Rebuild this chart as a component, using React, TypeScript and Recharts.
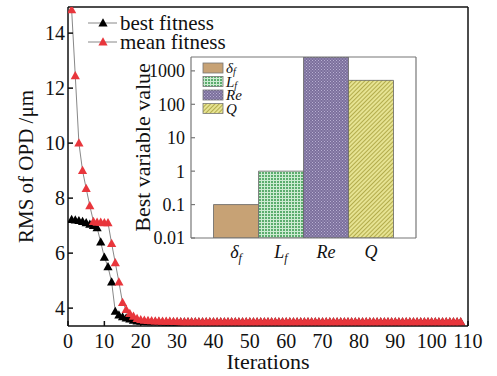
import { LineChart, Line, XAxis, YAxis, BarChart, Bar, Cell, Label, ReferenceLine } from "recharts";

const FONT = "serif";

// iteration 1..108
const bestFitness = [
  7.22, 7.2, 7.18, 7.15, 7.1, 7.05, 7.0, 6.92, 6.4, 5.85,
  5.5, 4.95, 3.88, 3.75, 3.68, 3.64, 3.6, 3.56, 3.53, 3.52,
  3.51, 3.5, 3.5, 3.5, 3.5, 3.49, 3.49, 3.49, 3.49, 3.49,
  3.49, 3.49, 3.49, 3.49, 3.49, 3.49, 3.49, 3.49, 3.49, 3.49,
  3.49, 3.49, 3.49, 3.49, 3.49, 3.49, 3.49, 3.49, 3.49, 3.49,
  3.49, 3.49, 3.49, 3.49, 3.49, 3.49, 3.49, 3.49, 3.49, 3.49,
  3.49, 3.49, 3.49, 3.49, 3.49, 3.49, 3.49, 3.49, 3.49, 3.49,
  3.49, 3.49, 3.49, 3.49, 3.49, 3.49, 3.49, 3.49, 3.49, 3.49,
  3.49, 3.49, 3.49, 3.49, 3.49, 3.49, 3.49, 3.49, 3.49, 3.49,
  3.49, 3.49, 3.49, 3.49, 3.49, 3.49, 3.49, 3.49, 3.49, 3.49,
  3.49, 3.49, 3.49, 3.49, 3.49, 3.49, 3.49, 3.49,
];

const meanFitness = [
  14.85, 12.45, 10.0, 9.0, 8.35, 7.72, 7.15, 7.12, 7.12, 7.1,
  7.1, 6.35, 5.65, 4.95, 4.2, 3.95, 3.8, 3.7, 3.62, 3.58,
  3.56, 3.55, 3.54, 3.53, 3.53, 3.52, 3.52, 3.52, 3.51, 3.51,
  3.5, 3.5, 3.5, 3.5, 3.5, 3.5, 3.5, 3.5, 3.5, 3.5,
  3.5, 3.5, 3.5, 3.5, 3.5, 3.5, 3.5, 3.5, 3.5, 3.5,
  3.5, 3.5, 3.5, 3.5, 3.5, 3.5, 3.5, 3.5, 3.5, 3.5,
  3.5, 3.5, 3.5, 3.5, 3.5, 3.5, 3.5, 3.5, 3.5, 3.5,
  3.5, 3.5, 3.5, 3.5, 3.5, 3.5, 3.5, 3.5, 3.5, 3.5,
  3.5, 3.5, 3.5, 3.5, 3.5, 3.5, 3.5, 3.5, 3.5, 3.5,
  3.5, 3.5, 3.5, 3.5, 3.5, 3.5, 3.5, 3.5, 3.5, 3.5,
  3.5, 3.5, 3.5, 3.5, 3.5, 3.5, 3.5, 3.5,
];

const xTicks = [0, 10, 20, 30, 40, 50, 60, 70, 80, 90, 100, 110];
const yTicks = [4, 6, 8, 10, 12, 14];
const xMax = 110;
const yMin = 3.35;
const yMax = 14.95;

// inset bar chart
const barNames = ["df", "Lf", "Re", "Q"];
const barSymbols = ["δ", "L", "Re", "Q"];
const barSubs = ["f", "f", "", ""];
const barValues = [0.1, 1, 2600, 520];
const barFills = ["url(#patDelta)", "url(#patL)", "url(#patRe)", "url(#patQ)"];
const logTicks = [0.01, 0.1, 1, 10, 100, 1000];
const logMin = 0.01;
const logMax = 2600;

const mainData = bestFitness.map((b, i) => ({ iter: i + 1, best: b, mean: meanFitness[i] }));
const barData = barNames.map((n, i) => ({ name: n, pos: i + 1, value: barValues[i] }));
const barSlots = barNames.length + 1;

const triPath = (cx: number, cy: number) =>
  `M${cx},${cy - 4.8} L${cx + 4.6},${cy + 3.4} L${cx - 4.6},${cy + 3.4} Z`;

function triangle(color: string) {
  return (p: any) => {
    const { cx, cy, index } = p;
    if (cx == null || cy == null) return <g key={index} />;
    return <path key={index} d={triPath(cx, cy)} fill={color} />;
  };
}

function CatTick(props: any) {
  const { x, y, payload } = props;
  const i = payload.value - 1;
  return (
    <text x={x} y={y + 12} textAnchor="middle" fontFamily={FONT} fontStyle="italic" fontSize={18} fill="#111">
      {barSymbols[i]}
      {barSubs[i] ? (
        <tspan fontSize={12} dy={4}>{barSubs[i]}</tspan>
      ) : null}
    </text>
  );
}

function Patterns() {
  return (
    <svg width={0} height={0} style={{ position: "absolute" }}>
      <defs>
        <pattern id="patDelta" width="4" height="4" patternUnits="userSpaceOnUse">
          <rect width="4" height="4" fill="#c7a275" />
        </pattern>
        <pattern id="patL" width="3" height="3" patternUnits="userSpaceOnUse">
          <rect width="3" height="3" fill="#5cad6e" />
          <path d="M0,0.5 H3 M0.5,0 V3" stroke="#cdebd2" strokeWidth={1} />
        </pattern>
        <pattern id="patRe" width="3" height="3" patternUnits="userSpaceOnUse">
          <rect width="3" height="3" fill="#7b6f9c" />
          <rect x="0" y="0" width="1" height="1" fill="#b8b0d2" />
          <rect x="1.5" y="1.5" width="1" height="1" fill="#b8b0d2" />
        </pattern>
        <pattern id="patQ" width="3" height="3" patternUnits="userSpaceOnUse" patternTransform="rotate(45)">
          <rect width="3" height="3" fill="#e6e392" />
          <line x1="0.5" y1="0" x2="0.5" y2="3" stroke="#b3ac4c" strokeWidth={1} />
        </pattern>
      </defs>
    </svg>
  );
}

const legendRows = [
  { label: "best fitness", color: "#000" },
  { label: "mean fitness", color: "#e8363c" },
];

function Legends() {
  return (
    <svg width={497} height={376} style={{ position: "absolute", left: 0, top: 0, pointerEvents: "none" }}>
      {legendRows.map((r, i) => {
        const y = 23 + i * 19;
        return (
          <g key={r.label}>
            <line x1={88} x2={117} y1={y} y2={y} stroke="#888" strokeWidth={1} />
            <path d={triPath(103, y)} fill={r.color} />
            <text x={120} y={y + 7} fontFamily={FONT} fontSize={21} fill="#111">{r.label}</text>
          </g>
        );
      })}
      {barNames.map((n, i) => {
        const y = 68 + i * 13.5;
        return (
          <g key={n}>
            <rect x={203} y={y - 5} width={20} height={10} fill={barFills[i]} stroke="#777" strokeWidth={0.8} />
            <text x={226} y={y + 5} fontFamily={FONT} fontStyle="italic" fontSize={15} fill="#111">
              {barSymbols[i]}
              {barSubs[i] ? <tspan fontSize={10} dy={2}>{barSubs[i]}</tspan> : null}
            </text>
          </g>
        );
      })}
    </svg>
  );
}

export default function App() {
  return (
    <div style={{ position: "absolute", left: 0, top: 0, width: 497, height: 376, background: "#fff" }}>
      <Patterns />
      <LineChart width={497} height={376} data={mainData} margin={{ top: 7, right: 29, bottom: 20, left: 8 }}>
        <XAxis
          dataKey="iter"
          type="number"
          domain={[0, xMax]}
          ticks={xTicks}
          interval={0}
          allowDataOverflow
          height={30}
          tickSize={-5}
          tickMargin={13}
          stroke="#111"
          strokeWidth={1.5}
          tick={{ fill: "#111", fontSize: 20, fontFamily: FONT }}
        >
          <Label
            content={(p: any) => {
              const vb = p.viewBox;
              return (
                <text x={vb.x + vb.width / 2} y={vb.y + 43} textAnchor="middle" fontFamily={FONT} fontSize={22} fill="#111">
                  Iterations
                </text>
              );
            }}
          />
        </XAxis>
        <YAxis
          type="number"
          domain={[yMin, yMax]}
          ticks={yTicks}
          interval={0}
          allowDataOverflow
          width={60}
          tickSize={-5}
          tickMargin={8}
          stroke="#111"
          strokeWidth={1.5}
          tick={{ fill: "#111", fontSize: 20, fontFamily: FONT }}
        >
          <Label
            content={(p: any) => {
              const vb = p.viewBox;
              const cx = vb.x + 18;
              const cy = vb.y + vb.height / 2;
              return (
                <text
                  x={cx}
                  y={cy}
                  transform={`rotate(-90 ${cx} ${cy})`}
                  textAnchor="middle"
                  dominantBaseline="central"
                  fontFamily={FONT}
                  fontSize={21}
                  fill="#111"
                >
                  RMS of OPD /μm
                </text>
              );
            }}
          />
        </YAxis>
        <ReferenceLine y={yMax} stroke="#111" strokeWidth={1.5} />
        <ReferenceLine x={xMax} stroke="#111" strokeWidth={1.5} />
        <Line dataKey="best" stroke="#888" strokeWidth={1} dot={triangle("#000")} activeDot={false} isAnimationActive={false} />
        <Line dataKey="mean" stroke="#888" strokeWidth={1} dot={triangle("#e8363c")} activeDot={false} isAnimationActive={false} />
      </LineChart>

      <div style={{ position: "absolute", left: 120, top: 45 }}>
        <BarChart width={310} height={230} data={barData} margin={{ top: 12, right: 14, bottom: 7, left: 21 }} barCategoryGap={0} barGap={0}>
          <XAxis
            dataKey="pos"
            type="number"
            domain={[0, barSlots]}
            ticks={barData.map((d) => d.pos)}
            interval={0}
            tickLine={false}
            height={30}
            stroke="#777"
            strokeWidth={1.2}
            tick={<CatTick />}
          />
          <YAxis
            scale="log"
            type="number"
            domain={[logMin, logMax]}
            ticks={logTicks}
            interval={0}
            allowDataOverflow
            width={50}
            tickSize={-4}
            tickMargin={10}
            stroke="#777"
            strokeWidth={1.2}
            tick={{ fill: "#111", fontSize: 18, fontFamily: FONT }}
          >
            <Label
              content={(p: any) => {
                const vb = p.viewBox;
                const cx = vb.x + 1;
                const cy = vb.y + vb.height / 2;
                return (
                  <text
                    x={cx}
                    y={cy}
                    transform={`rotate(-90 ${cx} ${cy})`}
                    textAnchor="middle"
                    dominantBaseline="central"
                    fontFamily={FONT}
                    fontSize={22}
                    fill="#111"
                  >
                    Best variable value
                  </text>
                );
              }}
            />
          </YAxis>
          <ReferenceLine y={logMax} stroke="#777" strokeWidth={1.2} />
          <ReferenceLine x={barSlots} stroke="#777" strokeWidth={1.2} />
          <Bar dataKey="value" stroke="#666" strokeWidth={0.8} isAnimationActive={false}>
            {barData.map((d, i) => (
              <Cell key={d.name} fill={barFills[i]} />
            ))}
          </Bar>
        </BarChart>
      </div>

      <Legends />
    </div>
  );
}
